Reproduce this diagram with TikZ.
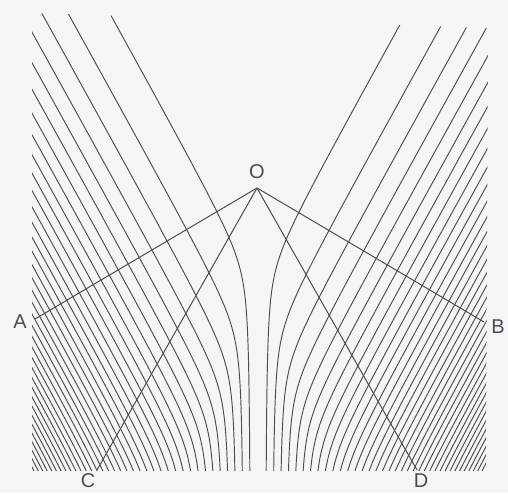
\documentclass[tikz,border=0pt]{standalone}
\usepackage{fontspec}
\setmainfont{Liberation Sans}
\usepackage{xcolor}
\usepackage{tikz}
\definecolor{ink}{HTML}{4F4956}
\definecolor{paper}{HTML}{F6F5F6}

\begin{document}
\begin{tikzpicture}[x=1pt, y=1pt,
  curve/.style={draw=ink, line width=0.95pt},
  ray/.style={draw=ink, line width=1pt},
  lbl/.style={font=\fontsize{20}{20}\selectfont, text=ink, inner sep=1pt}
]
\fill[paper] (0,0) rectangle (508,493);
\useasboundingbox (0,0) rectangle (508,493);

% family of curves, mirrored about x = 258
\begin{scope}
\clip (32,480) -- (488,465) -- (486,22) -- (32,22) -- cycle;
\foreach \n in {1,...,36} {
  \pgfmathsetmacro{\q}{107 - 40*((\n-0.5)^0.38 - 0.5^0.38)/0.38}
  \pgfmathsetmacro{\v}{7 + 7*(\n-1) - 0.06*(\n-1)*(\n-2)}
  \pgfmathsetmacro{\yc}{1.8*(\v+\q)}
  \draw[curve] plot[domain=0:470, samples=60, smooth, variable=\t]
    ({258 - \v - ((\t-\yc) + 100*sqrt(((\t-\yc)/100)^2 + 0.18))/3.6}, {22+\t});
  \draw[curve] plot[domain=0:470, samples=60, smooth, variable=\t]
    ({258 + \v + ((\t-\yc) + 100*sqrt(((\t-\yc)/100)^2 + 0.18))/3.6}, {22+\t});
}
\end{scope}

\coordinate (O) at (257,305);
\coordinate (A) at (35,174);
\coordinate (B) at (484,171);
\coordinate (C) at (97,23);
\coordinate (D) at (417,23);

\draw[ray] (O) -- (A);
\draw[ray] (O) -- (B);
\draw[ray] (O) -- (C);
\draw[ray] (O) -- (D);

\node[lbl] (lO) at (257,321) {O};
\node[lbl] (lA) at (20,171) {A};
\node[lbl] (lB) at (498,166) {B};
\node[lbl] (lC) at (88,12) {C};
\node[lbl] (lD) at (421,12) {D};
\end{tikzpicture}
\end{document}
